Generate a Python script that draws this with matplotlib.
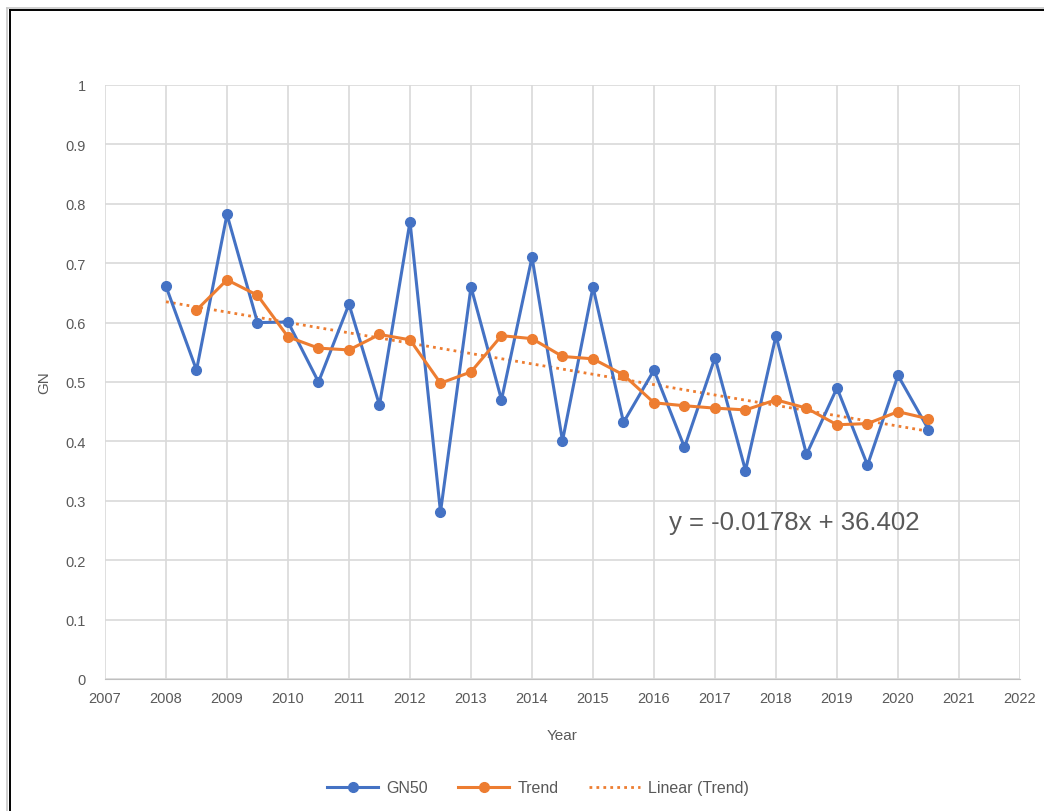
import numpy as np
import matplotlib.pyplot as plt
from matplotlib.lines import Line2D

# half-year steps 2008 .. 2020.5
years = [2008, 2008.5, 2009, 2009.5, 2010, 2010.5, 2011, 2011.5, 2012, 2012.5,
         2013, 2013.5, 2014, 2014.5, 2015, 2015.5, 2016, 2016.5, 2017, 2017.5,
         2018, 2018.5, 2019, 2019.5, 2020, 2020.5]

gn50 = [0.661, 0.520, 0.782, 0.600, 0.601, 0.500, 0.631, 0.461, 0.770, 0.281,
        0.660, 0.470, 0.710, 0.401, 0.660, 0.432, 0.520, 0.390, 0.541, 0.351,
        0.578, 0.378, 0.490, 0.360, 0.511, 0.420]

# moving trend, no value for the first step
trend_years = years[1:]
trend = [0.621, 0.672, 0.646, 0.576, 0.557, 0.554, 0.580, 0.571, 0.498,
         0.517, 0.578, 0.573, 0.543, 0.539, 0.512, 0.465, 0.460, 0.456, 0.453,
         0.470, 0.456, 0.428, 0.430, 0.450, 0.438]

eq_label = "y = -0.0178x + 36.402"

BLUE = "#4472C4"
ORANGE = "#ED7D31"
GREY = "#595959"
GRID = "#D9D9D9"

plt.rcParams['font.family'] = ['Liberation Sans', 'DejaVu Sans']

fig = plt.figure(figsize=(10.44, 8.12), dpi=100)
ax = fig.add_axes([105 / 1044, 1 - 680 / 812, 915 / 1044, 594 / 812])

# chart frame (dark line with a light edge, top and left)
fig.add_artist(Line2D([7 / 1044, 7 / 1044], [0, 1 - 9 / 812], transform=fig.transFigure,
                      color="#C8C8C8", lw=1.2))
fig.add_artist(Line2D([7 / 1044, 1], [1 - 9 / 812, 1 - 9 / 812], transform=fig.transFigure,
                      color="#C8C8C8", lw=1.2))
fig.add_artist(Line2D([9.5 / 1044, 9.5 / 1044], [0, 1 - 11 / 812], transform=fig.transFigure,
                      color="black", lw=1.4))
fig.add_artist(Line2D([9.5 / 1044, 1], [1 - 11 / 812, 1 - 11 / 812], transform=fig.transFigure,
                      color="black", lw=1.4))

# linear fit through the trend series
coef = np.polyfit(trend_years, trend, 1)
fit_x = np.array([years[0], years[-1]])
fit_y = np.polyval(coef, fit_x)

ax.plot(years, gn50, color=BLUE, lw=2.2, marker="o", markersize=7, label="GN50", zorder=3)
ax.plot(trend_years, trend, color=ORANGE, lw=2.2, marker="o", markersize=7, label="Trend", zorder=4)
ax.plot(fit_x, fit_y, color=ORANGE, lw=2, linestyle=(0, (1, 1.5)), label="Linear (Trend)", zorder=2)

ax.set_xlim(2007, 2022)
ax.set_ylim(0, 1)
ax.set_xticks(range(2007, 2023))
ax.set_yticks(np.arange(0, 1.01, 0.1))
ax.set_yticklabels(["0"] + [f"{v:.1f}" for v in np.arange(0.1, 0.95, 0.1)] + ["1"])
ax.grid(True, color=GRID, lw=1.2)
ax.set_axisbelow(True)
for s in ax.spines.values():
    s.set_visible(False)
ax.spines["bottom"].set_visible(True)
ax.spines["bottom"].set_color("#BFBFBF")
ax.tick_params(length=0, colors=GREY, labelsize=10.5, pad=9)
ax.tick_params(axis="y", pad=14)

ax.set_xlabel("Year", color=GREY, fontsize=11, labelpad=16)
ax.set_ylabel("GN", color=GREY, fontsize=11, labelpad=10)

ax.text(2016.25, 0.265, eq_label, color=GREY, fontsize=18.5, va="center", ha="left")

fig.legend(loc="center", bbox_to_anchor=(538 / 1044, 1 - 789 / 812), ncol=3, frameon=False,
           fontsize=11.5, labelcolor=GREY, handlelength=3.2, columnspacing=1.9, handletextpad=0.5)

fig.savefig("out.png", dpi=100, facecolor="white")
